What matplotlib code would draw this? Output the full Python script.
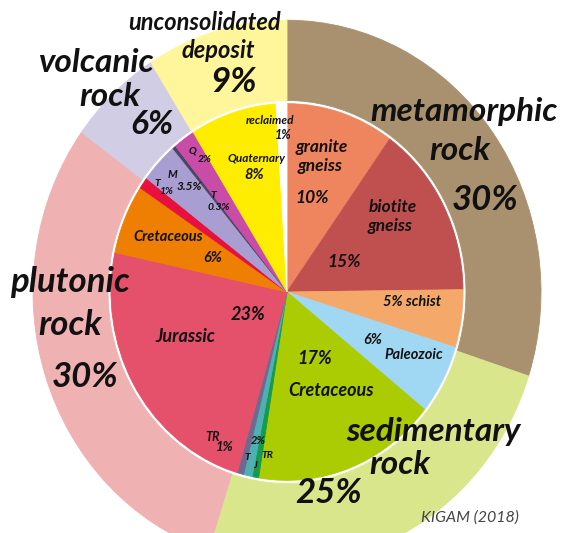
import matplotlib
matplotlib.use("Agg")
import matplotlib.pyplot as plt

# outer ring: rock groups (clockwise from 12 o'clock)
groups = ["metamorphic rock", "sedimentary rock", "plutonic rock", "volcanic rock", "unconsolidated deposit"]
group_pct = [30, 25, 30, 6, 9]
group_colors = ["#a9916f", "#d9e68c", "#efb1b1", "#d1cde5", "#fff69c"]

# inner pie: subdivisions (same order)
subs = ["granite gneiss", "biotite gneiss", "schist",
        "Paleozoic", "Cretaceous", "TR", "J", "T",
        "TR", "Jurassic", "Cretaceous",
        "T", "M", "T", "Q",
        "Quaternary", "reclaimed"]
sub_pct = [10, 15, 5,
           6, 17, 0.6, 0.8, 0.6,
           1, 23, 6,
           1, 3.5, 0.3, 2,
           8, 1]
sub_colors = ["#ef855e", "#c0504f", "#f4a96b",
              "#a0d8f4", "#abcb02", "#169a4c", "#4fb0b4", "#6d6a90",
              "#e5506b", "#e5506b", "#ee7f02",
              "#e8103c", "#a99ed2", "#4a4562", "#c94ca9",
              "#ffed00", "#ffffff"]

W, H = 564, 533
SY = 1.07  # picture is slightly stretched vertically
CX, CY = 287, 292
R_IN, R_OUT = 176, 254


def px(x, y):
    return x, (H - y) / SY


fig = plt.figure(figsize=(W / 100, H / 100), dpi=100)
ax = fig.add_axes([0, 0, 1, 1])

c = px(CX, CY)
outer, _ = ax.pie(group_pct, colors=group_colors, startangle=90, counterclock=False,
                  radius=R_OUT, center=c, frame=True,
                  wedgeprops=dict(width=R_OUT - R_IN - 3, linewidth=0.6))
inner, _ = ax.pie(sub_pct, colors=sub_colors, startangle=90, counterclock=False,
                  radius=R_IN, center=c, frame=True,
                  wedgeprops=dict(linewidth=0.6))
# hide seams between wedges
for w in outer + inner:
    w.set_edgecolor(w.get_facecolor())
ax.set_aspect("auto")
ax.set_xlim(0, W)
ax.set_ylim(0, H / SY)
ax.axis("off")

FONT = "Lato"
DARK = "#111111"


def lab(x, y, s, size, **kw):
    ax.text(*px(x, y), s, fontsize=size, fontfamily=FONT, fontweight="bold",
            fontstyle="italic", color=DARK, ha="center", va="center", **kw)


# outer labels
lab(205, 22, "unconsolidated", 17)
lab(218, 50, "deposit", 17)
lab(234, 82, "9%", 25)
lab(96, 63, "volcanic", 24)
lab(110, 97, "rock", 24)
lab(152, 125, "6%", 24)
lab(464, 112, "metamorphic", 24)
lab(460, 150, "rock", 24)
lab(485, 200, "30%", 25)
lab(70, 282, "plutonic", 25)
lab(70, 325, "rock", 25)
lab(85, 377, "30%", 25)
lab(433, 432, "sedimentary", 24)
lab(400, 465, "rock", 24)
lab(329, 493, "25%", 25)
ax.text(*px(470, 518), "KIGAM (2018)", fontsize=11.5, fontfamily=FONT,
        fontstyle="italic", color="#444444", ha="center", va="center")

# inner labels
lab(270, 121, "reclaimed", 8.5)
lab(283, 135, "1%", 9)
lab(322, 147, "granite", 12.5)
lab(320, 166, "gneiss", 12.5)
lab(312, 198, "10%", 12.5)
lab(393, 207, "biotite", 12.5)
lab(390, 226, "gneiss", 12.5)
lab(344, 262, "15%", 12.5)
lab(412, 302, "5% schist", 10.5)
lab(373, 340, "6%", 10.5)
lab(414, 355, "Paleozoic", 10.5)
lab(315, 358, "17%", 13)
lab(331, 390, "Cretaceous", 13)
lab(213, 437, "TR", 9)
lab(225, 447, "1%", 9.5)
lab(258, 441, "2%", 8)
lab(247, 458, "T", 7.5)
lab(255, 466, "J", 6.5)
lab(267, 455, "TR", 7.5)
lab(248, 315, "23%", 13)
lab(185, 337, "Jurassic", 13)
lab(168, 237, "Cretaceous", 10.5)
lab(213, 258, "6%", 10.5)
lab(157, 183, "T", 7.5)
lab(166, 191, "1%", 7.5)
lab(172, 175, "M", 8)
lab(189, 186, "3.5%", 8.5)
lab(213, 195, "T", 7.5)
lab(219, 207, "0.3%", 7.5)
lab(193, 151, "Q", 7.5)
lab(205, 159, "2%", 7.5)
lab(256, 158, "Quaternary", 8.5)
lab(254, 175, "8%", 10.5)

fig.savefig("out.png", dpi=100)
